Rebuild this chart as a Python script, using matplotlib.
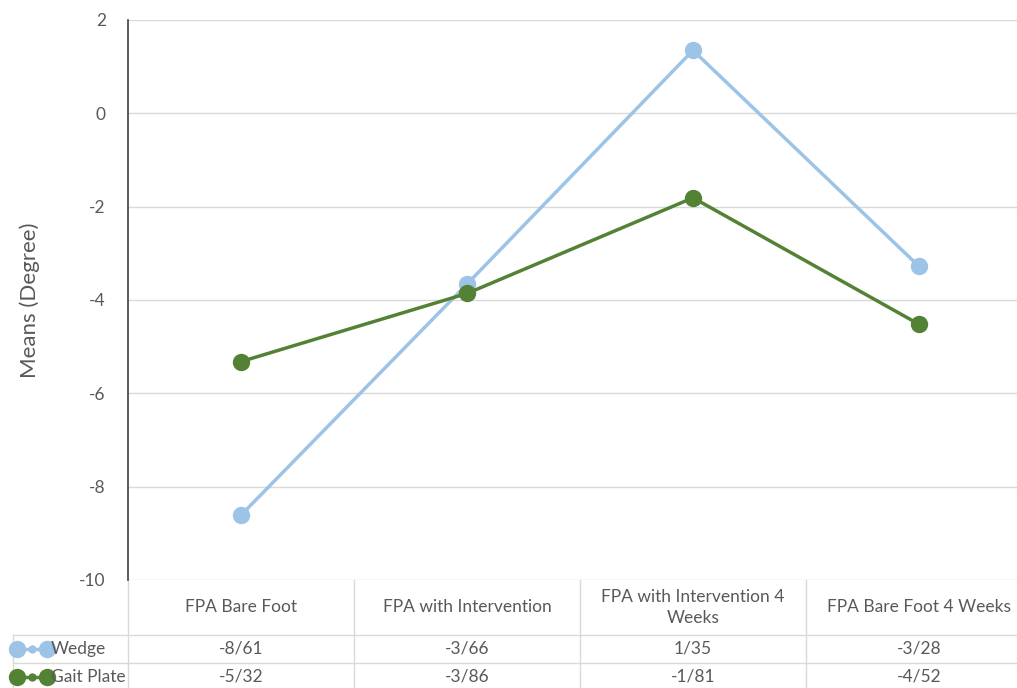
import matplotlib
matplotlib.use("Agg")
import matplotlib.pyplot as plt

categories = ["FPA Bare Foot", "FPA with Intervention", "FPA with Intervention 4\nWeeks", "FPA Bare Foot 4 Weeks"]
wedge = [-8.61, -3.66, 1.35, -3.28]
gait_plate = [-5.32, -3.86, -1.81, -4.52]
wedge_labels = ["-8/61", "-3/66", "1/35", "-3/28"]
gait_labels = ["-5/32", "-3/86", "-1/81", "-4/52"]
series_names = ["Wedge", "Gait Plate"]
yticks = [2, 0, -2, -4, -6, -8, -10]

plt.rcParams['font.family'] = ['Lato', 'DejaVu Sans']
TXT = "#595959"
GRID = "#d9d9d9"
C_W = "#9dc3e6"
C_G = "#548235"
FS = 12.5

W, H = 1017, 688
fig = plt.figure(figsize=(W / 100, H / 100), dpi=100)
ax = fig.add_axes([128 / W, (H - 580) / H, 904 / W, 560 / H])

x = list(range(len(categories)))
ax.plot(x, wedge, color=C_W, lw=2.5, marker='o', ms=11.5, zorder=3)
ax.plot(x, gait_plate, color=C_G, lw=2.5, marker='o', ms=11.5, zorder=4)

ax.set_xlim(-0.5, 3.5)
ax.set_ylim(-10, 2)
ax.set_yticks(yticks)
ax.set_yticklabels([str(v) for v in yticks])
ax.tick_params(axis='y', length=0, pad=16, labelsize=FS, labelcolor=TXT)
ax.set_xticks([])
ax.grid(axis='y', color=GRID, lw=1)
for s in ['top', 'right', 'bottom']:
    ax.spines[s].set_visible(False)
ax.spines['left'].set_color('#404040')
ax.spines['left'].set_linewidth(1.2)
ax.set_ylabel("Means (Degree)", fontsize=16, color=TXT, labelpad=28)

# data table below the axes
tr = ax.get_xaxis_transform()
px = 1 / 560.0
y_top = 0
y_h = -(635 - 580) * px
y_r1 = -(663 - 580) * px
y_r2 = -(691 - 580) * px
x_left = -0.5 - 115 / 226.0

ax.plot([x_left, 3.5], [y_h, y_h], color=GRID, lw=1, transform=tr, clip_on=False)
ax.plot([x_left, 3.5], [y_r1, y_r1], color=GRID, lw=1, transform=tr, clip_on=False)
ax.plot([x_left, x_left], [y_h, y_r2], color=GRID, lw=1, transform=tr, clip_on=False)
ax.plot([-0.5, -0.5], [0, y_r2], color=GRID, lw=1, transform=tr, clip_on=False)
for b in [0.5, 1.5, 2.5, 3.5]:
    ax.plot([b, b], [0, y_r2], color=GRID, lw=1, transform=tr, clip_on=False)

for i, c in enumerate(categories):
    ax.text(i, (y_top + y_h) / 2, c, ha='center', va='center', fontsize=FS,
            color=TXT, transform=tr, linespacing=1.45)
    ax.text(i, (y_h + y_r1) / 2, wedge_labels[i], ha='center', va='center',
            fontsize=FS, color=TXT, transform=tr)
    ax.text(i, (y_r1 + y_r2) / 2, gait_labels[i], ha='center', va='center',
            fontsize=FS, color=TXT, transform=tr)

# legend keys
for name, col, yc in [(series_names[0], C_W, (y_h + y_r1) / 2),
                      (series_names[1], C_G, (y_r1 + y_r2) / 2)]:
    kx = [x_left + 4 / 226.0, x_left + 19 / 226.0, x_left + 34 / 226.0]
    ax.plot([kx[0], kx[2]], [yc, yc], color=col, lw=2.5, transform=tr, clip_on=False, zorder=5)
    ax.plot([kx[0], kx[2]], [yc, yc], color=col, lw=0, marker='o', ms=11.5,
            transform=tr, clip_on=False, zorder=5)
    ax.plot([kx[1]], [yc], color=col, lw=0, marker='o', ms=5,
            transform=tr, clip_on=False, zorder=5)
    ax.text(x_left + 38 / 226.0, yc, name, ha='left', va='center', fontsize=FS,
            color=TXT, transform=tr, zorder=6)

fig.savefig("out.png", dpi=100)
